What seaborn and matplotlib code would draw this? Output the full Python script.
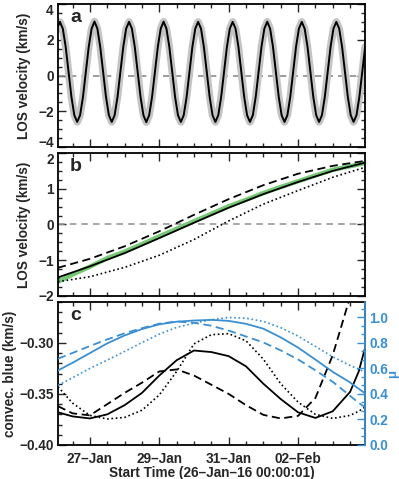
import numpy as np
import pandas as pd
import seaborn as sns
import matplotlib.pyplot as plt
from matplotlib.ticker import MultipleLocator, FuncFormatter

# x axis: days since 26-Jan-16 00:00
x_lim = (0.08, 8.93)
tick_days = [1, 3, 5, 7]
tick_labels = ['27–Jan', '29–Jan', '31–Jan', '02–Feb']

# panel a: LOS velocity sampled every ~2 h
step_a = 0.083
start_a = 0.0525
vel_a = [2.62,
         3.00, 2.62, 1.60, 0.20, -1.20, -2.22, -2.60, -2.22, -1.20, 0.20, 1.60, 2.62,
         3.02, 2.63, 1.60, 0.20, -1.20, -2.22, -2.60, -2.22, -1.20, 0.20, 1.60, 2.62,
         3.00, 2.62, 1.60, 0.20, -1.20, -2.22, -2.61, -2.22, -1.20, 0.20, 1.60, 2.62,
         3.01, 2.62, 1.60, 0.20, -1.20, -2.22, -2.60, -2.22, -1.20, 0.20, 1.60, 2.62,
         3.00, 2.62, 1.60, 0.20, -1.20, -2.22, -2.60, -2.22, -1.20, 0.20, 1.60, 2.62,
         3.00, 2.62, 1.60, 0.20, -1.20, -2.22, -2.60, -2.22, -1.20, 0.20, 1.60, 2.62,
         3.01, 2.62, 1.60, 0.20, -1.20, -2.22, -2.60, -2.22, -1.20, 0.20, 1.60, 2.62,
         3.00, 2.62, 1.60, 0.20, -1.20, -2.22, -2.60, -2.22, -1.20, 0.20, 1.60, 2.62,
         3.00, 2.62, 1.60, 0.20, -1.20, -2.22, -2.60, -2.22, -1.20, 0.20, 1.60]
days_a = start_a + step_a * np.arange(len(vel_a))
yticks_a = [-4, -2, 0, 2, 4]

# panel b
days_b = [0.08, 1, 2, 3, 4, 5, 6, 7, 8, 8.93]
solid_b = [-1.48, -1.17, -0.80, -0.38, 0.05, 0.47, 0.85, 1.19, 1.50, 1.73]
dashed_b = [-1.21, -0.96, -0.61, -0.19, 0.27, 0.71, 1.10, 1.42, 1.64, 1.78]
dotted_b = [-1.60, -1.46, -1.20, -0.86, -0.42, 0.10, 0.57, 0.95, 1.32, 1.60]
days_g = [0.08, 0.5, 1, 1.5, 2, 2.5, 3, 3.5, 4, 4.5, 5, 5.5, 6, 6.5, 7, 7.5, 8, 8.5, 8.93]
green_b = [-1.60, -1.40, -1.18, -0.94, -0.76, -0.55, -0.33, -0.12, 0.09, 0.30,
           0.51, 0.69, 0.88, 1.05, 1.21, 1.37, 1.53, 1.63, 1.72]
yticks_b = [-2, -1, 0, 1, 2]

# panel c
days_c = [0.08, 0.5, 1, 1.5, 2, 2.5, 3, 3.5, 4, 4.5, 5, 5.5, 6, 6.5, 7, 7.5, 8, 8.5, 8.75, 8.93]
solid_c = [-0.368, -0.372, -0.374, -0.370, -0.361, -0.349, -0.332, -0.317, -0.3075, -0.309,
           -0.313, -0.323, -0.340, -0.355, -0.368, -0.3735, -0.367, -0.348, -0.328, -0.305]
dashed_c = [-0.362, -0.369, -0.371, -0.360, -0.349, -0.339, -0.328, -0.326, -0.332, -0.341,
            -0.350, -0.361, -0.3705, -0.374, -0.3715, -0.354, -0.312, -0.255, -0.228, -0.208]
dotted_c = [-0.343, -0.359, -0.371, -0.3745, -0.373, -0.366, -0.351, -0.328, -0.301, -0.292,
            -0.291, -0.298, -0.316, -0.340, -0.358, -0.370, -0.374, -0.371, -0.367, -0.3627]
solid_mu = [0.584, 0.644, 0.720, 0.796, 0.858, 0.908, 0.945, 0.966, 0.975, 0.980,
            0.972, 0.949, 0.911, 0.843, 0.763, 0.669, 0.573, 0.490, 0.440, 0.405]
dashed_mu = [0.676, 0.721, 0.775, 0.827, 0.875, 0.915, 0.950, 0.967, 0.957, 0.934,
             0.896, 0.850, 0.803, 0.741, 0.670, 0.585, 0.495, 0.385, 0.330, 0.296]
dotted_mu = [0.467, 0.527, 0.600, 0.665, 0.733, 0.802, 0.868, 0.921, 0.954, 0.981,
             0.999, 0.993, 0.968, 0.919, 0.853, 0.772, 0.691, 0.623, 0.593, 0.571]

sns.set_style("ticks")
plt.rcParams['font.family'] = ['Liberation Sans', 'DejaVu Sans']
plt.rcParams['font.weight'] = 'bold'
plt.rcParams['axes.labelweight'] = 'bold'
plt.rcParams['font.size'] = 9.8

blue = '#3a8fd2'
green = '#74c874'
dash = (0, (4.5, 2.5))
dot = (0, (1, 1.6))
zero_dash = (0, (4, 3))

df_a = pd.DataFrame({'day': days_a, 'vel': vel_a})
df_b = pd.DataFrame({'day': days_b, 'solid': solid_b, 'dashed': dashed_b, 'dotted': dotted_b})
df_g = pd.DataFrame({'day': days_g, 'green': green_b})
df_c = pd.DataFrame({'day': days_c, 'solid': solid_c, 'dashed': dashed_c, 'dotted': dotted_c,
                     'solid_mu': solid_mu, 'dashed_mu': dashed_mu, 'dotted_mu': dotted_mu})

fig = plt.figure(figsize=(3.99, 4.79), dpi=100)
L, W, H = 58 / 399, 307 / 399, 143 / 479
ax_a = fig.add_axes([L, 1 - 147 / 479, W, H])
ax_b = fig.add_axes([L, 1 - 296 / 479, W, H])
ax_c = fig.add_axes([L, 1 - 445 / 479, W, H])

# a
ax_a.axhline(0, color='#8c8c8c', lw=1.2, ls=zero_dash)
sns.lineplot(data=df_a, x='day', y='vel', ax=ax_a, color='#c4c4c4', lw=5.4)
sns.lineplot(data=df_a, x='day', y='vel', ax=ax_a, color='black', lw=1.4)
ax_a.set_ylim(-4, 4)
ax_a.set_yticks(yticks_a)
ax_a.yaxis.set_minor_locator(MultipleLocator(0.5))

# b
ax_b.axhline(0, color='#9a9a9a', lw=1.2, ls=zero_dash)
sns.lineplot(data=df_g, x='day', y='green', ax=ax_b, color=green, lw=3.2)
sns.lineplot(data=df_b, x='day', y='dashed', ax=ax_b, color='black', lw=1.3, ls=dash)
sns.lineplot(data=df_b, x='day', y='dotted', ax=ax_b, color='black', lw=1.2, ls=dot)
sns.lineplot(data=df_b, x='day', y='solid', ax=ax_b, color='black', lw=1.3)
ax_b.set_ylim(-2, 2)
ax_b.set_yticks(yticks_b)
ax_b.yaxis.set_minor_locator(MultipleLocator(0.25))

# end labels kept clear of the neighbouring panel, as in the original
ticks_a = ax_a.yaxis.get_major_ticks()
ticks_a[0].label1.set_va('baseline')
ticks_a[-1].label1.set_va('top')
ax_b.yaxis.get_major_ticks()[-1].label1.set_va('top')

# c
sns.lineplot(data=df_c, x='day', y='solid', ax=ax_c, color='black', lw=1.3)
sns.lineplot(data=df_c, x='day', y='dashed', ax=ax_c, color='black', lw=1.3, ls=dash)
sns.lineplot(data=df_c, x='day', y='dotted', ax=ax_c, color='black', lw=1.2, ls=dot)
ax_c.set_ylim(-0.40, -0.26)
ax_c.yaxis.set_major_locator(MultipleLocator(0.05))
ax_c.yaxis.set_minor_locator(MultipleLocator(0.01))
ax_c.yaxis.set_major_formatter(FuncFormatter(lambda v, p: f'{v:.2f}'.replace('-', '\u2212')))

ax_m = ax_c.twinx()
sns.lineplot(data=df_c, x='day', y='solid_mu', ax=ax_m, color=blue, lw=1.3)
sns.lineplot(data=df_c, x='day', y='dashed_mu', ax=ax_m, color=blue, lw=1.3, ls=dash)
sns.lineplot(data=df_c, x='day', y='dotted_mu', ax=ax_m, color=blue, lw=1.2, ls=dot)
ax_m.set_ylim(0, 1.12)
ax_m.yaxis.set_major_locator(MultipleLocator(0.2))
ax_m.yaxis.set_minor_locator(MultipleLocator(0.2 / 3))
ax_m.yaxis.set_major_formatter(FuncFormatter(lambda v, p: f'{v:.1f}'))
ax_m.tick_params(axis='y', which='both', direction='in', colors=blue, width=1.0, pad=3)
ax_m.tick_params(axis='y', which='major', length=6)
ax_m.tick_params(axis='y', which='minor', length=3)
ax_m.spines['right'].set_color(blue)
ax_m.spines['right'].set_linewidth(1.3)
for s in ['top', 'left', 'bottom']:
    ax_m.spines[s].set_visible(False)
ax_m.set_ylabel('')
ax_m.text(1.09, 0.5, '\u03bc', transform=ax_m.transAxes, rotation=90,
          ha='center', va='center', color=blue, fontsize=9.5)

letters = {'a': ax_a, 'b': ax_b, 'c': ax_c}
for lab, ax in letters.items():
    ax.set_xlim(*x_lim)
    ax.set_xticks(tick_days)
    ax.xaxis.set_minor_locator(MultipleLocator(0.5))
    ax.tick_params(which='both', direction='in', top=True, right=(ax is not ax_c),
                   width=1.0, pad=3)
    ax.tick_params(which='major', length=6)
    ax.tick_params(which='minor', length=3)
    for s in ax.spines.values():
        s.set_linewidth(1.3)
        s.set_color('black')
    ax.text(0.059, 0.905, lab, transform=ax.transAxes, fontsize=14,
            fontweight='bold', ha='center', va='center')
    ax.set_xlabel('')

ax_a.set_xticklabels([])
ax_b.set_xticklabels([])
ax_c.set_xticklabels(tick_labels)
ax_c.tick_params(axis='x', pad=5)
ax_c.set_xlabel('Start Time (26–Jan–16 00:00:01)')
ax_c.xaxis.set_label_coords(0.5, -0.148)

ax_a.set_ylabel('LOS velocity (km/s)')
ax_b.set_ylabel('LOS velocity (km/s)')
ax_c.set_ylabel('convec. blue (km/s)')
ax_a.yaxis.set_label_coords(-0.087, 0.5)
ax_b.yaxis.set_label_coords(-0.087, 0.5)
ax_c.yaxis.set_label_coords(-0.133, 0.5)

fig.savefig('out.png', dpi=100)
